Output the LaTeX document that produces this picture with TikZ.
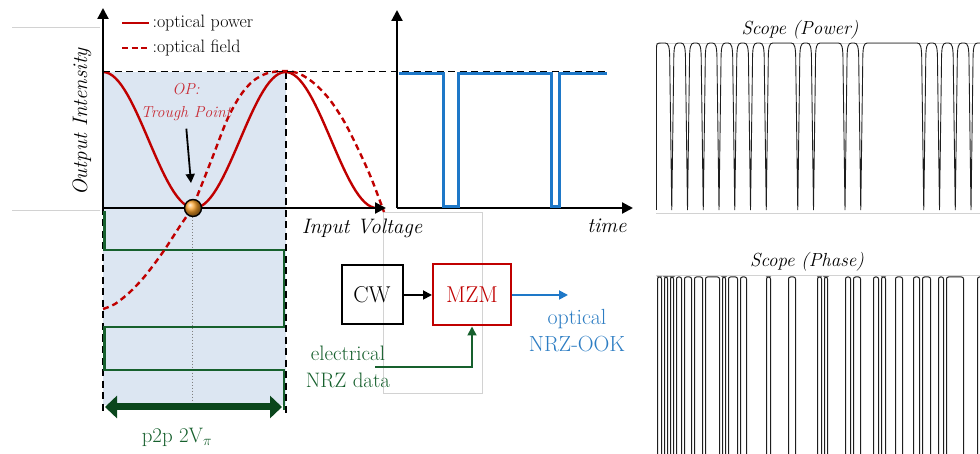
\documentclass[tikz,border=0pt]{standalone}
\usetikzlibrary{arrows.meta,positioning}
\newcommand{\fsz}[1]{\fontsize{#1}{#1}\selectfont}

\begin{document}
\begin{tikzpicture}[x=1bp,y=-1bp,>=Latex,
  axis/.style={line width=2.2bp,-{Triangle[length=11bp,width=11bp]}},
  guide/.style={line width=1.6bp,dash pattern=on 7bp off 4.5bp},
  flow/.style={line width=1.8bp,-{Triangle[length=9bp,width=9bp]}},
  block/.style={draw,line width=2bp,minimum height=59bp,inner sep=0pt,font=\fsz{23}},
  trace/.style={cTrace,line width=0.9bp},
  faint/.style={cFaint,line width=0.7bp},
  lbl/.style={font=\fsz{21}\itshape},
  scopettl/.style={font=\fsz{19}\itshape}]

% colors
\definecolor{cRed}{RGB}{192,0,0}
\definecolor{cOP}{RGB}{200,45,55}
\definecolor{cShade}{RGB}{220,230,242}
\definecolor{cGreen}{RGB}{22,96,45}
\definecolor{cGreenDk}{RGB}{10,70,28}
\definecolor{cBlue}{RGB}{30,120,200}
\definecolor{cBlueTxt}{RGB}{45,125,195}
\definecolor{cOrange}{RGB}{248,160,40}
\definecolor{cFaint}{RGB}{210,210,210}
\definecolor{cTrace}{RGB}{30,30,30}

\useasboundingbox (0,0) rectangle (980,454);

% geometry
\def\xo{103}
\def\yo{208}
\def\ymax{72}
\def\xpk{286}
\def\xt{397}

% faint slide guides
\draw[faint] (12,27) -- (100,27);
\draw[faint] (12,210) -- (100,210);
\draw[faint] (383,212) rectangle (482,393);

% bias window
\fill[cShade] (\xo,\ymax) rectangle (\xpk,405);
\draw[guide] (\xpk,\ymax) -- (\xpk,413);
\draw[guide] (\xo,\yo) -- (\xo,413);
\draw[gray,line width=1bp,dotted] (192,\yo) -- (192,402);

% electrical drive
\draw[cGreen,line width=2.4bp] (104.5,211) -- (104.5,250) -- (284,250) -- (284,327)
  -- (104.5,327) -- (104.5,370) -- (284,370) -- (284,410);

% transfer curves
\draw[cRed,line width=2.4bp,domain=103:377,samples=90]
  plot (\x,{208-136*cos((\x-103)/182.5*180)*cos((\x-103)/182.5*180)});
\draw[cRed,line width=2.4bp,dash pattern=on 6bp off 4bp] plot[smooth] coordinates {
  (103,309) (115,304) (130,292) (145,276) (163,252) (180,226) (192,208) (200,189)
  (213,156) (227,120) (240,96) (253,81) (268,73) (286,71) (300,74) (315,84)
  (330,100) (345,123) (360,153) (372,180) (384,212)};

% axes
\coordinate (o1) at (\xo,\yo);
\coordinate (y1) at (\xo,8);
\coordinate (x1) at (386,\yo);
\coordinate (o2) at (\xt,\yo);
\coordinate (y2) at (\xt,10);
\coordinate (x2) at (633,\yo);
\draw[axis] (o1) -- (y1);
\draw[axis] (o1) -- (x1);
\draw[axis] (o2) -- (y2);
\draw[axis] (o2) -- (x2);

% optical output
\draw[cBlue,line width=3bp] (398.5,74) -- (443,74) -- (443,207) -- (458,207) -- (458,74)
  -- (551,74) -- (551,207) -- (559,207) -- (559,74) -- (607,74);
\draw[guide] (\xo,71.5) -- (607,71.5);

% legend
\node[anchor=west,font=\fsz{18}] (legP) at (149,23) {:optical power};
\node[anchor=west,font=\fsz{18}] (legF) at (149,48) {:optical field};
\draw[cRed,line width=2.4bp] ([xshift=-27bp]legP.west) -- (legP.west);
\draw[cRed,line width=2.4bp,dash pattern=on 6bp off 3.5bp] ([xshift=-27bp]legF.west) -- (legF.west);

% axis names
\node[lbl,rotate=90] (ylab) at (82,122) {Output Intensity};
\node[lbl] (xlab) at (362,228) {Input Voltage};
\node[lbl] (tlab) at (607,226) {time};

% operating point
\node[circle,draw=black,line width=1.4bp,ball color=cOrange,minimum size=17bp,inner sep=0pt]
  (opdot) at (193,208) {};
\node[text=cOP,font=\fsz{16}\itshape,align=center] (op) at (186,102) {OP:\\[8bp]Trough Point};
\coordinate (opTip) at (191,183);
\draw[flow,shorten <=4bp] (op.south) -- (opTip);

% swing
\coordinate (pL) at (105,407);
\coordinate (pR) at (282,407);
\draw[cGreenDk,line width=7bp,{Triangle[length=12bp,width=22bp]}-{Triangle[length=12bp,width=22bp]}] (pL) -- (pR);
\node[text=cGreen,font=\fsz{21}] (p2p) at (177,437) {p2p 2V$_\pi$};

% transmitter
\node[block,minimum width=61bp] (cw) at (372,295) {CW};
\node[block,draw=cRed,text=cRed,minimum width=78bp,minimum height=61bp] (mzm) at (472,295) {MZM};
\draw[flow] (cw) -- (mzm);
\coordinate (optOut) at (568,295);
\draw[flow,cBlue] (mzm) -- (optOut);
\node[text=cBlueTxt,font=\fsz{22},align=center] (optLbl) at (577,331) {optical\\[5bp]NRZ-OOK};
\coordinate (dataIn) at (375,367);
\draw[flow,cGreen] (dataIn) -| (mzm.south);
\node[text=cGreen,font=\fsz{21},align=center] (elLbl) at (348,367) {electrical\\[6bp]NRZ data};

% scopes
\node[scopettl] (scP) at (800,30) {Scope (Power)};
\node[scopettl] (scF) at (807,262) {Scope (Phase)};
\draw[faint] (656,43) -- (980,43);
\draw[faint] (656,213) -- (980,213);
\draw[faint] (656,275) -- (980,275);

\begin{scope}
\clip (640,0) rectangle (980,454);
\draw[trace] (656.5,210) -- (656.5,48) .. controls (656.5,44) and (657,43) .. (661,43)
  \foreach \d in {671.75,687.5,703.25,719,734.75,750.5,766.25,797.75,813.5,845,860.75,923.75,939.5,955.25,971}{
    -- ({\d-6.5},43) .. controls ({\d-3},43) and ({\d-2},47) .. ({\d-2},62) -- (\d,210)
    -- ({\d+2},62) .. controls ({\d+2},47) and ({\d+3},43) .. ({\d+6.5},43)}
  -- (990,43);
\draw[trace,line width=1bp,rounded corners=2bp] (650,470)
  \foreach \a/\b in {657/661,664/667,670/673,676/681,684/691,694/702,705/719,722/725,
    728/737,740/746,766/770,788/795,817/821,824/827,845/850,853/860,873/878,881/885,
    895/902,913/919,922/930,938/943,946/963,977/995}{
    -- ({\a+0.5},470) -- ({\a+0.5},277) -- ({\b+0.5},277) -- ({\b+0.5},470)};
\end{scope}

\end{tikzpicture}
\end{document}
